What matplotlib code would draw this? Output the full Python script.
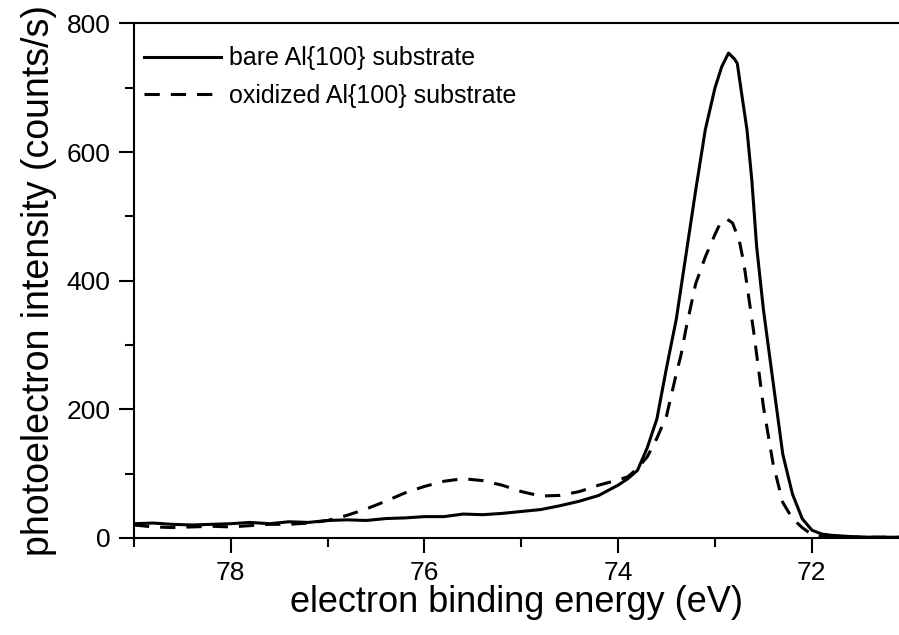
import matplotlib
matplotlib.use("Agg")
import matplotlib.pyplot as plt
from matplotlib.ticker import MultipleLocator

plt.rcParams['font.family'] = ['Liberation Sans', 'DejaVu Sans']

# binding energy (eV) and intensity (counts/s)
bare_energy = [79.0, 78.8, 78.6, 78.4, 78.2, 78.0, 77.8, 77.6, 77.4, 77.2,
               77.0, 76.8, 76.6, 76.4, 76.2, 76.0, 75.8, 75.6, 75.4, 75.2,
               75.0, 74.8, 74.6, 74.4, 74.2, 74.0, 73.9, 73.8, 73.7, 73.6,
               73.5, 73.4, 73.3, 73.2, 73.1, 73.0, 72.93, 72.86, 72.8, 72.77,
               72.72, 72.67, 72.62, 72.57, 72.5, 72.4, 72.3, 72.2, 72.1, 72.0,
               71.9, 71.8, 71.6, 71.4, 71.1]
bare_counts = [22, 23, 21, 20, 21, 22, 24, 22, 25, 24,
               27, 28, 27, 30, 31, 33, 33, 37, 36, 38,
               41, 44, 50, 57, 66, 82, 92, 105, 140, 185,
               265, 340, 440, 540, 635, 700, 733, 754, 745, 738,
               686, 635, 557, 453, 355, 242, 130, 68, 30, 12,
               6, 4, 2, 1, 1]

ox_energy = [79.0, 78.8, 78.6, 78.4, 78.2, 78.0, 77.8, 77.6, 77.4, 77.2,
             77.0, 76.8, 76.6, 76.4, 76.2, 76.0, 75.8, 75.6, 75.4, 75.2,
             75.0, 74.8, 74.6, 74.4, 74.2, 74.0, 73.9, 73.8, 73.7, 73.6,
             73.5, 73.4, 73.35, 73.3, 73.2, 73.1, 73.0, 72.95, 72.88, 72.82,
             72.75, 72.7, 72.6, 72.5, 72.4, 72.3, 72.2, 72.1, 72.0, 71.9,
             71.8, 71.1]
ox_counts = [20, 17, 16, 17, 18, 17, 19, 21, 21, 23,
             27, 35, 45, 57, 70, 80, 88, 92, 89, 82,
             72, 65, 66, 72, 82, 90, 95, 108, 126, 155,
             190, 255, 285, 325, 395, 437, 472, 488, 496, 490,
             463, 425, 320, 204, 115, 55, 30, 16, 5, 2,
             1, 1]

fig = plt.figure(figsize=(8.99, 6.35), dpi=100)
ax = fig.add_axes([0.149, 0.153, 0.851, 0.810])

ax.plot(bare_energy, bare_counts, color='black', lw=2.2,
        label='bare Al{100} substrate')
ax.plot(ox_energy, ox_counts, color='black', lw=2.2, dashes=(5, 3.6),
        label='oxidized Al{100} substrate')

ax.set_xlim(79, 71.1)
ax.set_ylim(0, 800)
ax.xaxis.set_major_locator(MultipleLocator(2))
ax.xaxis.set_minor_locator(MultipleLocator(1))
ax.yaxis.set_major_locator(MultipleLocator(200))
ax.yaxis.set_minor_locator(MultipleLocator(100))

ax.spines['right'].set_visible(False)
for s in ['left', 'bottom', 'top']:
    ax.spines[s].set_linewidth(1.5)
ax.tick_params(which='major', direction='out', length=11, width=1.5,
               labelsize=19, pad=6)
ax.tick_params(which='minor', direction='out', length=6.5, width=1.5)

ax.set_xlabel('electron binding energy (eV)', fontsize=26, labelpad=0)
ax.set_ylabel('photoelectron intensity (counts/s)', fontsize=27, labelpad=7)

ax.legend(loc='upper left', frameon=False, fontsize=18, handlelength=3.1,
          handletextpad=0.3, labelspacing=0.55, borderaxespad=0.0,
          bbox_to_anchor=(0.0, 0.975))

plt.savefig('out.png', dpi=100)
